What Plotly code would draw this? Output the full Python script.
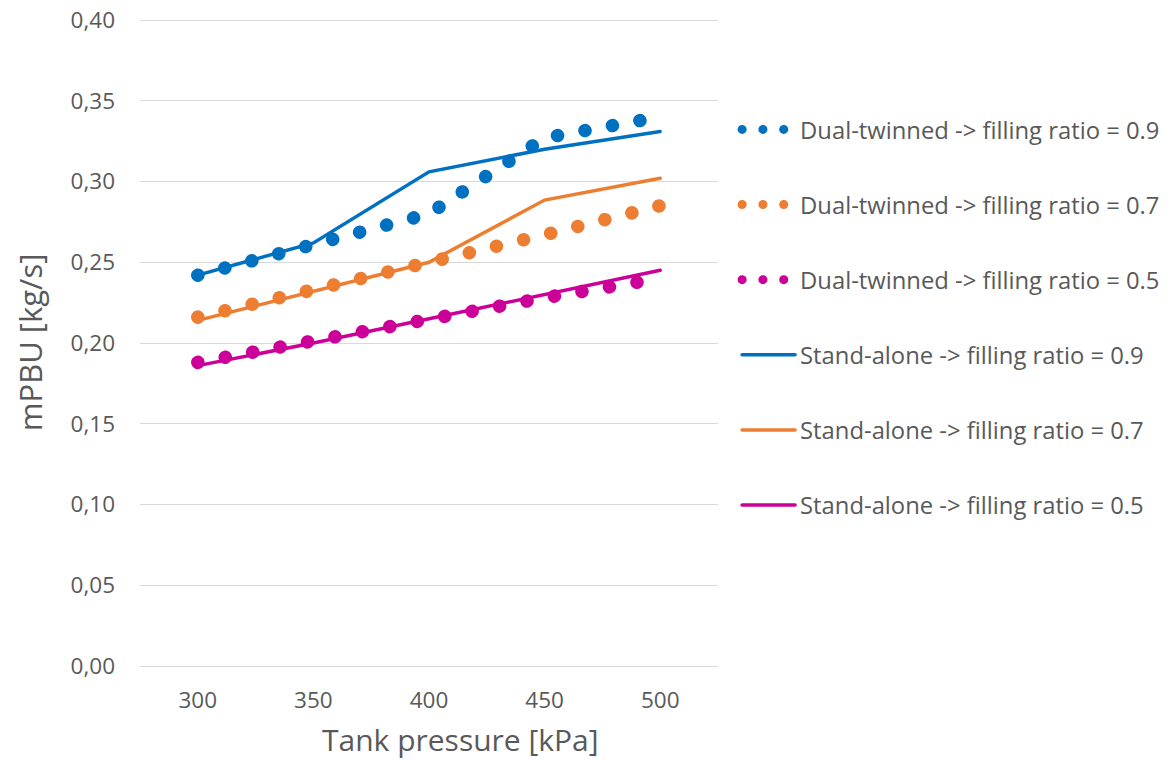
import plotly.graph_objects as go

# Tank pressure at which each series is evaluated [kPa]
pressure = [300, 350, 400, 450, 500]

# Dual-twinned configuration, mPBU [kg/s]
dual_09 = [0.242, 0.2615, 0.280, 0.327, 0.340]
dual_07 = [0.216, 0.232, 0.250, 0.267, 0.285]
dual_05 = [0.188, 0.202, 0.216, 0.228, 0.240]

# Stand-alone configuration, mPBU [kg/s]
stand_09 = [0.242, 0.262, 0.306, 0.320, 0.331]
stand_07 = [0.214, 0.232, 0.250, 0.2885, 0.302]
stand_05 = [0.186, 0.200, 0.215, 0.230, 0.245]

x_ticks = [300, 350, 400, 450, 500]

BLUE = "#0070C0"
ORANGE = "#ED7D31"
MAGENTA = "#CC0099"
TEXT = "#595959"
GRID = "#D9D9D9"
FONT = "'Open Sans', sans-serif"

series = [
    ("Dual-twinned -> filling ratio = 0.9", dual_09, BLUE, "dual"),
    ("Dual-twinned -> filling ratio = 0.7", dual_07, ORANGE, "dual"),
    ("Dual-twinned -> filling ratio = 0.5", dual_05, MAGENTA, "dual"),
    ("Stand-alone -> filling ratio = 0.9", stand_09, BLUE, "stand"),
    ("Stand-alone -> filling ratio = 0.7", stand_07, ORANGE, "stand"),
    ("Stand-alone -> filling ratio = 0.5", stand_05, MAGENTA, "stand"),
]

fig = go.Figure()
for i, (name, values, color, kind) in enumerate(series):
    if kind == "dual":
        line = dict(color=color, width=13.5, dash="0.1px,27.8px")
    else:
        line = dict(color=color, width=3.5)
    fig.add_trace(go.Scatter(
        x=pressure, y=values, name=name, mode="lines", line=line,
        legendgroup=f"g{i}", hoverinfo="skip",
    ))

fig.update_layout(
    width=1171, height=760,
    margin=dict(l=140, r=453, t=18, b=94, autoexpand=False),
    paper_bgcolor="white", plot_bgcolor="white",
    separators=", ",
    font=dict(family=FONT, color=TEXT, size=22),
    showlegend=True,
    legend=dict(
        x=1.033, xanchor="left", y=0.862, yanchor="top",
        tracegroupgap=41.2, itemwidth=53,
        font=dict(family=FONT, size=23.8, color=TEXT),
        bgcolor="rgba(0,0,0,0)",
    ),
    xaxis=dict(
        range=[275, 525], tickvals=x_ticks, showgrid=False, zeroline=False,
        showline=False, ticks="", ticklabelstandoff=18, automargin=False,
        tickfont=dict(size=22.5, color=TEXT),
    ),
    yaxis=dict(
        range=[0, 0.40124], tickvals=[0, 0.05, 0.10, 0.15, 0.20, 0.25, 0.30, 0.35, 0.40],
        tickformat=".2f",
        showgrid=True, gridcolor=GRID, gridwidth=1,
        zeroline=True, zerolinecolor=GRID, zerolinewidth=1,
        showline=False, ticks="", ticklabelstandoff=24, automargin=False,
        tickfont=dict(size=22.5, color=TEXT),
    ),
    annotations=[
        dict(text="Tank pressure [kPa]", xref="paper", yref="paper",
             x=0.555, y=-0.113, xanchor="center", yanchor="middle",
             showarrow=False, font=dict(size=30, color=TEXT)),
        dict(text="mPBU [kg/s]", xref="paper", yref="paper",
             x=-0.19, y=0.50, xanchor="center", yanchor="middle",
             textangle=-90, showarrow=False, font=dict(size=31, color=TEXT)),
    ],
)

# Round line caps turn the dotted dash pattern into round dots;
# the legend keys use a smaller dot of the same pattern.
round_caps = """
var gd = document.getElementById('{plot_id}');
function roundCaps() {
  gd.querySelectorAll('.scatterlayer path.js-line, .legend path.js-line').forEach(function (p) {
    p.style.strokeLinecap = 'round';
  });
  gd.querySelectorAll('.legend path.js-line').forEach(function (p) {
    if ((p.style.strokeDasharray || '').indexOf('0.1') === 0) {
      p.style.strokeWidth = '9px';
      p.style.strokeDasharray = '0.1px, 20.7px';
    }
  });
}
roundCaps();
gd.on('plotly_afterplot', roundCaps);
"""

fig.write_html("out.html", post_script=round_caps)
